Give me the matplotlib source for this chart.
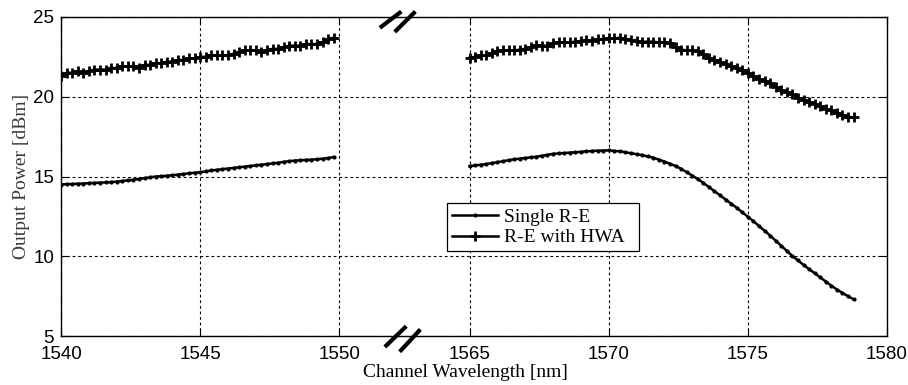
import numpy as np
import matplotlib
matplotlib.use('Agg')
import matplotlib.pyplot as plt

# output power vs channel wavelength, broken x axis (1550 -> 1565)

# wavelengths [nm], 0.2 nm steps on each band
wl_left = np.round(np.arange(1540.0, 1549.81, 0.2), 1)
wl_right = np.round(np.arange(1565.0, 1578.81, 0.2), 1)

single_left = [14.50, 14.52, 14.53, 14.55, 14.56, 14.58, 14.60, 14.62, 14.63, 14.65,
               14.68, 14.72, 14.76, 14.80, 14.84, 14.90, 14.95, 15.00, 15.02, 15.05,
               15.08, 15.12, 15.16, 15.20, 15.24, 15.27, 15.32, 15.38, 15.42, 15.46,
               15.50, 15.54, 15.58, 15.62, 15.66, 15.70, 15.74, 15.78, 15.82, 15.86,
               15.92, 15.96, 16.00, 16.02, 16.04, 16.06, 16.08, 16.12, 16.16, 16.22]
single_right = [15.65, 15.70, 15.74, 15.78, 15.84, 15.90, 15.96, 16.02, 16.08, 16.12,
                16.16, 16.20, 16.24, 16.30, 16.36, 16.42, 16.45, 16.47, 16.50, 16.52,
                16.55, 16.57, 16.60, 16.62, 16.63, 16.64, 16.60, 16.58, 16.52, 16.46,
                16.40, 16.34, 16.26, 16.18, 16.06, 15.94, 15.80, 15.66, 15.48, 15.28,
                15.06, 14.84, 14.60, 14.34, 14.08, 13.82, 13.56, 13.30, 13.04, 12.76,
                12.48, 12.20, 11.90, 11.60, 11.30, 10.98, 10.66, 10.34, 10.02, 9.74,
                9.46, 9.20, 8.94, 8.68, 8.42, 8.16, 7.92, 7.70, 7.50, 7.30]

hwa_left = [21.30, 21.50, 21.50, 21.60, 21.50, 21.60, 21.70, 21.70, 21.70, 21.80,
            21.80, 21.90, 21.90, 21.90, 21.80, 22.00, 22.00, 22.10, 22.10, 22.20,
            22.20, 22.30, 22.30, 22.40, 22.40, 22.50, 22.50, 22.60, 22.60, 22.60,
            22.60, 22.70, 22.80, 22.90, 22.90, 22.90, 22.80, 22.90, 23.00, 23.00,
            23.10, 23.20, 23.20, 23.20, 23.30, 23.30, 23.30, 23.40, 23.60, 23.70]
hwa_right = [22.45, 22.50, 22.60, 22.60, 22.75, 22.85, 22.90, 22.90, 22.90, 22.95,
             23.00, 23.10, 23.25, 23.20, 23.20, 23.35, 23.40, 23.40, 23.40, 23.45,
             23.50, 23.55, 23.50, 23.60, 23.60, 23.65, 23.65, 23.70, 23.60, 23.55,
             23.50, 23.45, 23.45, 23.45, 23.40, 23.40, 23.35, 23.10, 22.95, 22.90,
             22.90, 22.85, 22.70, 22.40, 22.30, 22.20, 22.05, 21.90, 21.80, 21.70,
             21.50, 21.30, 21.10, 21.00, 20.85, 20.60, 20.40, 20.30, 20.15, 19.95,
             19.80, 19.70, 19.55, 19.40, 19.25, 19.15, 19.00, 18.85, 18.75, 18.70]

xtick_vals = [1540, 1545, 1550, 1565, 1570, 1575, 1580]
ytick_vals = [5, 10, 15, 20, 25]

GAP = 4.68  # width of the break on the axis, in nm-units


def to_pos(lam):
    lam = np.asarray(lam, dtype=float)
    return np.where(lam <= 1550, lam, lam - 1565 + 1550 + GAP)


plt.rcParams['font.family'] = 'Liberation Serif'

fig = plt.figure(figsize=(9.08, 3.85), dpi=100)
ax = fig.add_axes([0.0672, 0.127, 0.9097, 0.829])

# segments drawn separately so nothing crosses the gap
ax.plot(to_pos(wl_left), single_left, color='k', lw=1.8, marker='.', ms=4,
        label='Single R-E')
ax.plot(to_pos(wl_right), single_right, color='k', lw=1.8, marker='.', ms=4)
ax.plot(to_pos(wl_left), hwa_left, color='k', lw=1.8, marker='+', ms=7, mew=2,
        label='R-E with HWA')
ax.plot(to_pos(wl_right), hwa_right, color='k', lw=1.8, marker='+', ms=7, mew=2)

ax.set_xlim(to_pos(1540), to_pos(1580))
ax.set_ylim(5, 25)
ax.set_xticks(to_pos(xtick_vals))
ax.set_xticklabels([str(v) for v in xtick_vals])
ax.set_yticks(ytick_vals)

for lab in ax.get_xticklabels() + ax.get_yticklabels():
    lab.set_family('Liberation Sans')
    lab.set_fontsize(13.5)

ax.tick_params(direction='in', length=5, width=0.8, top=True, right=True,
               pad=5, colors='k')
ax.tick_params(axis='x', pad=7)
ax.grid(True, color='k', linestyle=(0, (2.5, 2.5)), lw=0.8)

for s in ax.spines.values():
    s.set_linewidth(1.0)

ax.set_xlabel('Channel Wavelength [nm]', fontsize=14)
ax.xaxis.set_label_coords(0.49, -0.088)
ax.set_ylabel('Output Power [dBm]', fontsize=14, color='#3a3a3a', labelpad=2)

leg = ax.legend(loc='lower left', bbox_to_anchor=(0.467, 0.266, 0.233, 0.182),
                mode='expand', fontsize=14, handlelength=2.4, handletextpad=0.3,
                borderpad=0.25, labelspacing=0.15, fancybox=False, framealpha=1,
                edgecolor='k', borderaxespad=0)
leg.get_frame().set_linewidth(0.9)

# break marks on top and bottom spines
marks = [((0.386, 0.412), (0.966, 1.017)), ((0.404, 0.429), (0.953, 1.017)),
         ((0.392, 0.418), (-0.034, 0.031)), ((0.410, 0.435), (-0.049, 0.021))]
for xs, ys in marks:
    ax.plot(xs, ys, transform=ax.transAxes, color='k', lw=3, clip_on=False,
            solid_capstyle='butt')

fig.savefig('out.png', dpi=100)
